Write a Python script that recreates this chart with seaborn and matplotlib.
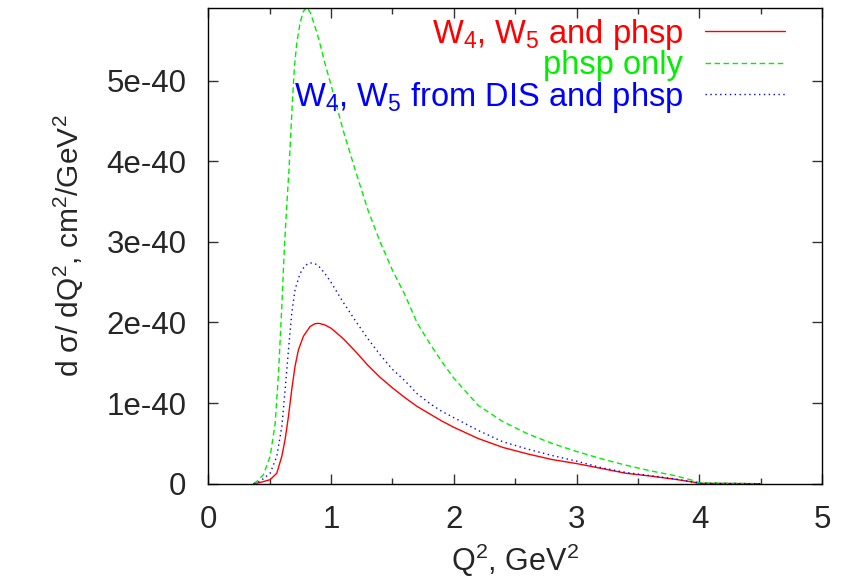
import numpy as np
import pandas as pd
import seaborn as sns
import matplotlib.pyplot as plt

# dsigma/dQ^2, in units of 1e-40 cm^2/GeV^2, against Q^2 in GeV^2
q2_red = [0.37, 0.423, 0.505, 0.559, 0.60, 0.627, 0.654, 0.681, 0.708, 0.735, 0.776, 0.83,
          0.87, 0.90, 0.95, 1.0, 1.1, 1.2, 1.3, 1.4, 1.5, 1.6, 1.7, 1.8, 1.9, 2.0,
          2.2, 2.4, 2.6, 2.8, 3.0, 3.2, 3.4, 3.6, 3.8, 3.95, 4.0, 4.5]
w45_phsp = [0, 0.015, 0.05, 0.13, 0.34, 0.55, 0.835, 1.17, 1.46, 1.66, 1.83, 1.95,
            1.985, 1.99, 1.97, 1.93, 1.80, 1.64, 1.47, 1.32, 1.19, 1.07, 0.96, 0.87, 0.78, 0.70,
            0.56, 0.45, 0.37, 0.30, 0.25, 0.19, 0.13, 0.095, 0.055, 0.02, 0.005, 0]

q2_green = [0.37, 0.397, 0.45, 0.505, 0.546, 0.573, 0.60, 0.621, 0.643, 0.66, 0.673, 0.687,
            0.703, 0.722, 0.749, 0.775, 0.804, 0.83, 0.86, 0.90, 0.95, 1.0, 1.1, 1.2, 1.3,
            1.4, 1.5, 1.6, 1.7, 1.8, 1.9, 2.0, 2.2, 2.4, 2.6, 2.8, 3.0, 3.2, 3.4, 3.6,
            3.8, 3.95, 4.0, 4.5]
phsp_only = [0, 0.03, 0.11, 0.34, 0.75, 1.37, 2.20, 2.94, 3.52, 3.94, 4.35, 4.76,
             5.18, 5.47, 5.72, 5.86, 5.91, 5.85, 5.72, 5.52, 5.22, 4.95, 4.38, 3.88, 3.40,
             3.00, 2.65, 2.35, 2.00, 1.75, 1.52, 1.31, 0.97, 0.77, 0.62, 0.50, 0.40, 0.31, 0.23, 0.16,
             0.10, 0.04, 0.01, 0]

q2_blue = [0.37, 0.423, 0.505, 0.559, 0.60, 0.627, 0.654, 0.681, 0.708, 0.749, 0.79, 0.83,
           0.87, 0.90, 0.95, 1.0, 1.1, 1.2, 1.3, 1.4, 1.5, 1.6, 1.7, 1.8, 1.9, 2.0,
           2.2, 2.4, 2.6, 2.8, 3.0, 3.2, 3.4, 3.6, 3.8, 3.95, 4.0, 4.5]
w45_dis = [0, 0.03, 0.13, 0.34, 0.71, 1.17, 1.66, 2.12, 2.41, 2.61, 2.71, 2.74,
           2.73, 2.70, 2.61, 2.50, 2.25, 2.02, 1.80, 1.60, 1.42, 1.28, 1.12, 1.00, 0.90, 0.82,
           0.66, 0.52, 0.43, 0.35, 0.28, 0.20, 0.14, 0.10, 0.06, 0.02, 0.005, 0]

labels = ["W$_4$, W$_5$ and phsp", "phsp only", "W$_4$, W$_5$ from DIS and phsp"]
colors = ["#ff0000", "#00ee00", "#0000ff"]
styles = ["-", (0, (4, 2.5)), (0, (1, 2.5))]

df = pd.concat([
    pd.DataFrame({"q2": q2_red, "val": np.array(w45_phsp) * 1e-40, "curve": labels[0]}),
    pd.DataFrame({"q2": q2_green, "val": np.array(phsp_only) * 1e-40, "curve": labels[1]}),
    pd.DataFrame({"q2": q2_blue, "val": np.array(w45_dis) * 1e-40, "curve": labels[2]}),
])

sns.set_theme(style="ticks")
plt.rcParams['font.family'] = ['Liberation Sans', 'DejaVu Sans']
plt.rcParams['mathtext.default'] = 'regular'

fig = plt.figure(figsize=(8.46, 5.8), dpi=100)
ax = fig.add_axes([0.246, 0.166, 0.726, 0.820])

for lab, col, ls in zip(labels, colors, styles):
    sns.lineplot(data=df[df.curve == lab], x="q2", y="val", color=col, linestyle=ls,
                 linewidth=1.0, label=lab, ax=ax)

ax.set_xlim(0, 5)
ax.set_ylim(0, 5.9e-40)
ax.set_xticks([0, 1, 2, 3, 4, 5])
ax.set_xticks(np.arange(0.5, 5, 1.0), minor=True)
ax.set_yticks([0, 1e-40, 2e-40, 3e-40, 4e-40, 5e-40])
ax.set_yticklabels(["0", "1e-40", "2e-40", "3e-40", "4e-40", "5e-40"])
ax.set_xticklabels(["0", "1", "2", "3", "4", "5"])
ax.tick_params(which="both", direction="in", top=True, right=True, labelsize=22.5, width=1, color="#333333")
ax.tick_params(which="major", length=7, pad=15.5)
ax.tick_params(which="minor", length=4)
for s in ax.spines.values():
    s.set_linewidth(1)
    s.set_color("black")

ax.set_xlabel("Q$^2$, GeV$^2$", fontsize=22, labelpad=5)
ax.set_ylabel("d σ/ dQ$^2$, cm$^2$/GeV$^2$", fontsize=21.5, labelpad=15)

leg = ax.legend(loc="upper right", bbox_to_anchor=(0.928, 0.971), bbox_transform=fig.transFigure,
                frameon=False, fontsize=23.5, markerfirst=False, labelcolor="linecolor",
                handlelength=2.45, handletextpad=0.67, labelspacing=-0.05, borderpad=0, borderaxespad=0)
for t in leg.get_texts():
    t.set_ha("right")
leg._legend_box.align = "right"

fig.savefig("out.png", dpi=100)
